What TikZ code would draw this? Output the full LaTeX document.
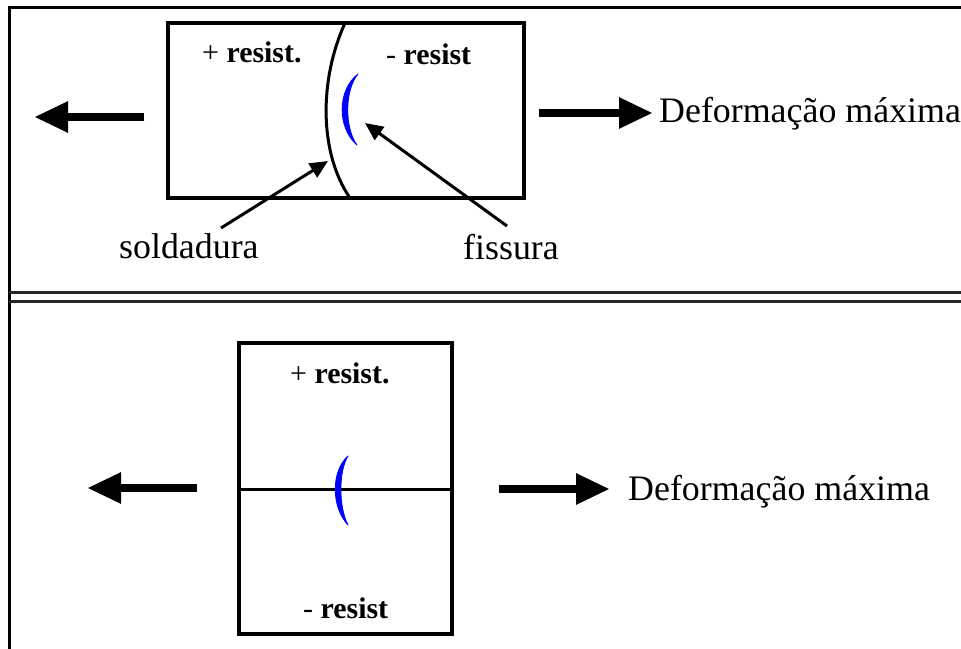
\documentclass[tikz,border=0pt]{standalone}
\usepackage{fontspec}
\setmainfont{Liberation Serif}
\usetikzlibrary{arrows.meta}
\definecolor{crackblue}{RGB}{0,0,255}
\tikzset{
  frameline/.style={line width=3bp},
  specimen/.style={draw, line width=3.5bp, inner sep=0pt, outer sep=0pt},
  bigarrow/.style={line width=8.5bp, -{Triangle[length=34bp,width=29bp]}},
  pointer/.style={line width=3bp, -{Triangle[length=18bp,width=16bp]}},
  labeltext/.style={font=\fontsize{36}{40}\selectfont, anchor=base west, inner sep=0pt},
  zonetext/.style={font=\fontsize{30}{34}\selectfont, anchor=base west, inner sep=0pt},
  weldline/.style={line width=3bp},
  crack/.style={fill=crackblue, draw=crackblue, line width=0.8bp, line join=round},
  divline/.style={line width=3bp, draw=black!85},
}
\begin{document}
\begin{tikzpicture}[x=1bp,y=-1bp]
\fill[white] (0,0) rectangle (961,649);
\useasboundingbox (0,0) rectangle (961,649);

% outer frame
\draw[frameline] (9,649) -- (9,8) -- (961,8);
\draw[divline] (9,292) -- (961,292);
\draw[divline] (9,301) -- (961,301);

% ---------------- top panel ----------------
\node[specimen, minimum width=356bp, minimum height=175bp] (box1) at (346,110.5) {};
% weld
\coordinate (weldtop) at (345,23);
\coordinate (weldbot) at (350,198);
\draw[weldline] (weldtop) .. controls (319,80) and (319,153) .. (weldbot);
% crack
\fill[crack] (358,74) .. controls (337,90) and (337,128) .. (357,145)
   .. controls (344.5,128) and (344.5,90) .. (358,74) -- cycle;

\node[zonetext] (plus1) at (202,63) {+ \textbf{resist.}};
\node[zonetext] (minus1) at (386,65) {- \textbf{resist}};

% big arrows
\coordinate (l1a) at (144,117);
\coordinate (l1b) at (34,117);
\draw[bigarrow] (l1a) -- (l1b);
\coordinate (r1a) at (539,113);
\coordinate (r1b) at (653,113);
\draw[bigarrow] (r1a) -- (r1b);
\node[labeltext] (def1) at (659,123) {Deformação máxima};

% pointers
\node[labeltext] (sold) at (119,258) {soldadura};
\node[labeltext] (fiss) at (463,259) {fissura};
\coordinate (soldtail) at (221,228);
\coordinate (soldtip) at (328,161);
\coordinate (fisstail) at (507,226);
\coordinate (fisstip) at (365,123);
\draw[pointer] (soldtail) -- (soldtip);
\draw[pointer] (fisstail) -- (fisstip);

% ---------------- bottom panel ----------------
\node[specimen, minimum width=213bp, minimum height=291bp] (box2) at (345.5,488.5) {};
\draw[weldline] (box2.west |- 0,489) -- (box2.east |- 0,489);
\fill[crack] (348,456) .. controls (331,471) and (331,507) .. (348,525)
   .. controls (338.5,507) and (338.5,471) .. (348,456) -- cycle;

\node[zonetext] (plus2) at (290,383) {+ \textbf{resist.}};
\node[zonetext] (minus2) at (303,618) {- \textbf{resist}};

\coordinate (l2a) at (197,488);
\coordinate (l2b) at (87,488);
\draw[bigarrow] (l2a) -- (l2b);
\coordinate (r2a) at (499,489);
\coordinate (r2b) at (610,489);
\draw[bigarrow] (r2a) -- (r2b);
\node[labeltext] (def2) at (628,500) {Deformação máxima};
\end{tikzpicture}
\end{document}
